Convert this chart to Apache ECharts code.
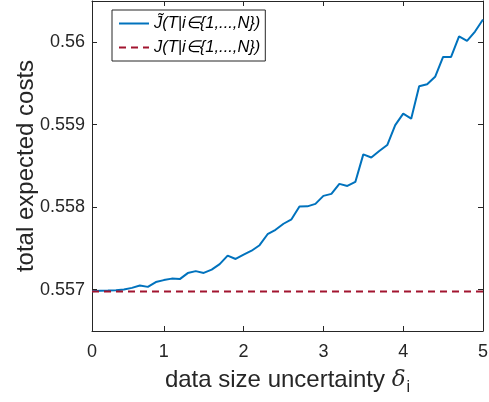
<!DOCTYPE html>
<html>
<head>
<meta charset="utf-8">
<script src="https://cdn.jsdelivr.net/npm/echarts@6/dist/echarts.min.js"></script>
<style>
  html, body { margin: 0; padding: 0; background: #fff; }
  #main { width: 489px; height: 402px; }
</style>
</head>
<body>
<div id="main"></div>
<script>
// data size uncertainty, 0.1 .. 5
var deltas = [0.1, 0.2, 0.3, 0.4, 0.5, 0.6, 0.7, 0.8, 0.9, 1.0,
  1.1, 1.2, 1.3, 1.4, 1.5, 1.6, 1.7, 1.8, 1.9, 2.0,
  2.1, 2.2, 2.3, 2.4, 2.5, 2.6, 2.7, 2.8, 2.9, 3.0,
  3.1, 3.2, 3.3, 3.4, 3.5, 3.6, 3.7, 3.8, 3.9, 4.0,
  4.1, 4.2, 4.3, 4.4, 4.5, 4.6, 4.7, 4.8, 4.9, 5.0]
var costTilde = [0.556982, 0.556987, 0.556990, 0.556994, 0.557002, 0.557023, 0.557051, 0.557035, 0.557093, 0.557117,
  0.557135, 0.557129, 0.557202, 0.557226, 0.557204, 0.557244, 0.557310, 0.557413, 0.557373, 0.557425,
  0.557473, 0.557540, 0.557673, 0.557727, 0.557800, 0.557854, 0.558008, 0.558011, 0.558041, 0.558138,
  0.558162, 0.558283, 0.558258, 0.558307, 0.558641, 0.558603, 0.558681, 0.558754, 0.558995, 0.559134,
  0.559074, 0.559466, 0.559490, 0.559581, 0.559822, 0.559822, 0.560070, 0.560016, 0.560130, 0.560275]
var costExact = 0.556978

var xTickValues = [0.1, 1, 2, 3, 4, 5]
var xTickLabels = ['0', '1', '2', '3', '4', '5']
var yTickValues = [0.557, 0.558, 0.559, 0.56]
var yTickLabels = ['0.557', '0.558', '0.559', '0.56']

var nameTilde = 'J\u0303(T|i\u2208{1,...,N})'
var nameExact = 'J(T|i\u2208{1,...,N})'

var axisColor = '#262626'
var font = 'Liberation Sans, Arial, Helvetica, sans-serif'

const myChart = echarts.init(document.getElementById('main'))

function pairs(ys) {
  var out = []
  for (var i = 0; i < deltas.length; i++) out.push([deltas[i], ys[i]])
  return out
}
var exactLine = []
for (var i = 0; i < deltas.length; i++) exactLine.push([deltas[i], costExact])

function xAx(pos, showLabel) {
  return {
    type: 'value',
    position: pos,
    min: 0.1,
    max: 5,
    name: showLabel ? '{t|data size uncertainty }{d|\u03b4}{s|i}' : '',
    nameLocation: 'middle',
    nameGap: 33,
    nameMoveOverlap: false,
    nameTextStyle: {
      rich: {
        t: { fontFamily: font, fontSize: 24, color: axisColor },
        d: { fontFamily: 'DejaVu Serif, serif', fontStyle: 'italic', fontSize: 23, color: axisColor },
        s: { fontFamily: font, fontSize: 16, color: axisColor, padding: [16, 0, 0, 1] }
      }
    },
    splitLine: { show: false },
    axisLine: { show: true, lineStyle: { color: axisColor, width: 1 } },
    axisTick: { show: true, inside: true, length: 5, customValues: xTickValues, lineStyle: { color: axisColor } },
    axisLabel: {
      show: showLabel,
      customValues: xTickValues,
      margin: 12,
      fontFamily: font,
      fontSize: 18,
      color: axisColor,
      formatter: function (v) {
        var k = xTickValues.indexOf(v)
        return k >= 0 ? xTickLabels[k] : ''
      }
    }
  }
}

function yAx(pos, showLabel) {
  return {
    type: 'value',
    position: pos,
    min: 0.5565,
    max: 0.5605,
    name: showLabel ? 'total expected costs' : '',
    nameLocation: 'middle',
    nameGap: 54,
    nameMoveOverlap: false,
    nameTextStyle: { fontFamily: font, fontSize: 24, color: axisColor },
    splitLine: { show: false },
    axisLine: { show: true, lineStyle: { color: axisColor, width: 1 } },
    axisTick: { show: true, inside: true, length: 5, customValues: yTickValues, lineStyle: { color: axisColor } },
    axisLabel: {
      show: showLabel,
      customValues: yTickValues,
      margin: 7,
      fontFamily: font,
      fontSize: 18,
      color: axisColor,
      formatter: function (v) {
        for (var k = 0; k < yTickValues.length; k++) {
          if (Math.abs(yTickValues[k] - v) < 1e-9) return yTickLabels[k]
        }
        return ''
      }
    }
  }
}

const option = {
  backgroundColor: '#fff',
  animation: false,
  grid: { left: 92, right: 6, top: 1, bottom: 71, containLabel: false, outerBoundsMode: 'none' },
  legend: {
    orient: 'vertical',
    left: 112,
    top: 10,
    padding: [5, 5, 5, 6],
    itemGap: 7,
    itemWidth: 30,
    itemHeight: 18,
    borderColor: axisColor,
    borderWidth: 1,
    borderRadius: 0,
    backgroundColor: '#fff',
    itemStyle: { opacity: 0 },
    textStyle: { fontFamily: font, fontStyle: 'italic', fontSize: 16.5, color: '#000' },
    data: [nameTilde, nameExact]
  },
  xAxis: [xAx('bottom', true), xAx('top', false)],
  yAxis: [yAx('left', true), yAx('right', false)],
  series: [
    {
      name: nameTilde,
      type: 'line',
      symbol: 'none',
      data: pairs(costTilde),
      lineStyle: { color: '#0072BD', width: 2 },
      itemStyle: { color: '#0072BD' }
    },
    {
      name: nameExact,
      type: 'line',
      symbol: 'none',
      data: exactLine,
      lineStyle: { color: '#A2142F', width: 2, type: [7, 5] },
      itemStyle: { color: '#A2142F' }
    }
  ]
}
myChart.setOption(option)
</script>
</body>
</html>
